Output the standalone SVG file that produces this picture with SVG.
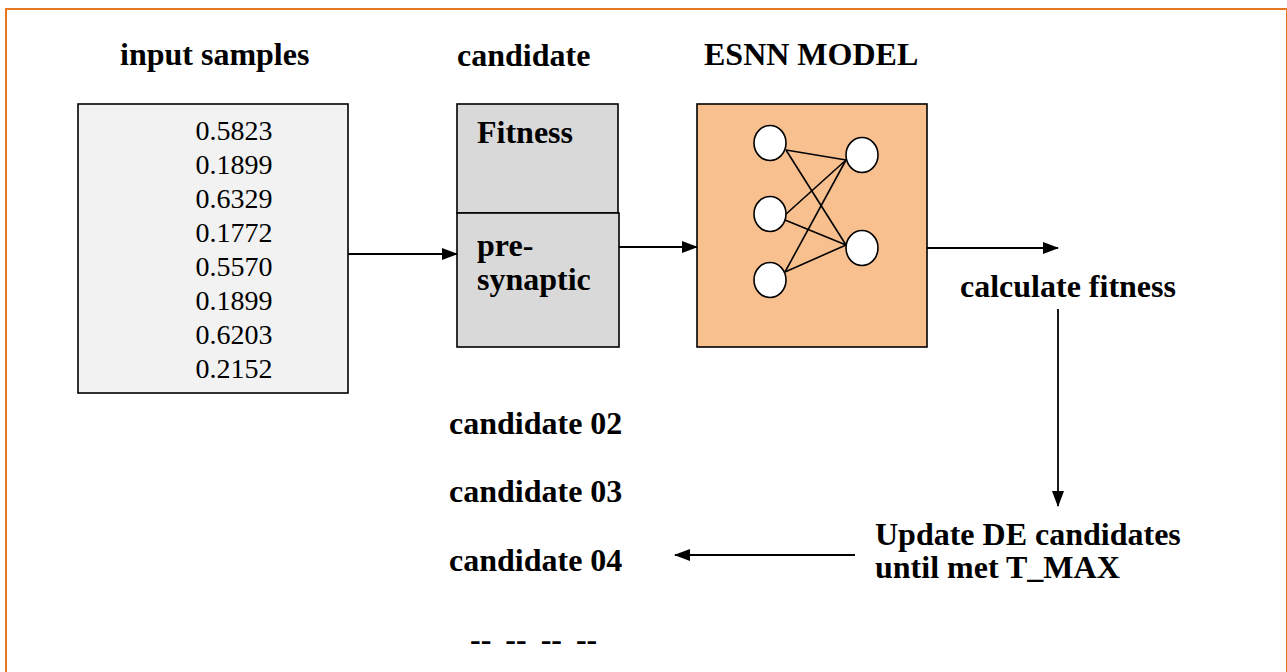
<svg xmlns="http://www.w3.org/2000/svg" width="1287" height="672" viewBox="0 0 1287 672">
  <style>
    .lbl { font-family: "Liberation Serif", "Times New Roman", serif; font-weight: bold; font-size: 32px; fill: #000; }
    .num { font-family: "Liberation Serif", "Times New Roman", serif; font-size: 28px; fill: #000; }
    .box { stroke: #000; stroke-width: 1.6; }
    .wire { stroke: #000; stroke-width: 1.6; fill: none; }
    .conn { stroke: #000; stroke-width: 1.8; fill: none; marker-end: url(#arrow); }
    .neuron { fill: #fff; stroke: #000; stroke-width: 1.6; }
  </style>
  <defs>
    <marker id="arrow" markerUnits="userSpaceOnUse" markerWidth="16" markerHeight="12" refX="15" refY="6" orient="auto">
      <path d="M0,0 L16,6 L0,12 Z" fill="#000"/>
    </marker>
  </defs>

  <!-- outer frame -->
  <rect x="6" y="9" width="1281" height="700" fill="#fff" stroke="#E87722" stroke-width="2"/>

  <!-- column headings -->
  <text class="lbl" x="120" y="65">input samples</text>
  <text class="lbl" x="457" y="66">candidate</text>
  <text class="lbl" x="704" y="65">ESNN MODEL</text>

  <!-- input samples -->
  <g id="input-samples">
    <rect class="box" x="78" y="104" width="270" height="289" fill="#f2f2f2"/>
    <g class="num" text-anchor="middle">
      <text x="234" y="140">0.5823</text>
      <text x="234" y="174">0.1899</text>
      <text x="234" y="208">0.6329</text>
      <text x="234" y="242">0.1772</text>
      <text x="234" y="276">0.5570</text>
      <text x="234" y="310">0.1899</text>
      <text x="234" y="344">0.6203</text>
      <text x="234" y="378">0.2152</text>
    </g>
  </g>

  <!-- candidate: fitness + pre-synaptic -->
  <g id="candidate">
    <rect class="box" x="457" y="104" width="161" height="109" fill="#d9d9d9"/>
    <rect class="box" x="457" y="213" width="162" height="134" fill="#d9d9d9"/>
    <text class="lbl" x="477" y="143">Fitness</text>
    <text class="lbl" x="477" y="256">pre-</text>
    <text class="lbl" x="477" y="290">synaptic</text>
  </g>

  <!-- ESNN model -->
  <g id="esnn-model">
    <rect class="box" x="697" y="104" width="230" height="243" fill="#F8C08F"/>
    <g class="wire">
      <line x1="786" y1="150" x2="846" y2="160"/>
      <line x1="786" y1="150" x2="846" y2="245"/>
      <line x1="785" y1="215" x2="846" y2="160"/>
      <line x1="785" y1="220" x2="846" y2="245"/>
      <line x1="785" y1="272" x2="846" y2="160"/>
      <line x1="785" y1="272" x2="846" y2="245"/>
    </g>
    <ellipse class="neuron" cx="770" cy="143" rx="16" ry="17.5"/>
    <ellipse class="neuron" cx="770" cy="214" rx="16" ry="17.5"/>
    <ellipse class="neuron" cx="770" cy="280" rx="16" ry="17.5"/>
    <ellipse class="neuron" cx="862" cy="155" rx="16" ry="17.5"/>
    <ellipse class="neuron" cx="862" cy="248" rx="16" ry="17.5"/>
  </g>

  <g id="calculate-fitness">
    <text class="lbl" x="960" y="297">calculate fitness</text>
  </g>

  <g id="update-candidates">
    <text class="lbl" x="875" y="545">Update DE candidates</text>
    <text class="lbl" x="875" y="578">until met T_MAX</text>
  </g>

  <g id="candidate-list">
    <text class="lbl" x="449" y="434">candidate 02</text>
    <text class="lbl" x="449" y="502">candidate 03</text>
    <text class="lbl" x="449" y="571">candidate 04</text>
    <text class="lbl" x="470" y="650" word-spacing="6">-- -- -- --</text>
  </g>

  <!-- connectors -->
  <g id="connectors">
    <line class="conn" x1="348" y1="254" x2="457" y2="254"/>
    <line class="conn" x1="619" y1="247" x2="697" y2="247"/>
    <line class="conn" x1="927" y1="248" x2="1058" y2="248"/>
    <line class="conn" x1="1058" y1="309" x2="1058" y2="506"/>
    <line class="conn" x1="855" y1="555" x2="675" y2="555"/>
  </g>
</svg>
